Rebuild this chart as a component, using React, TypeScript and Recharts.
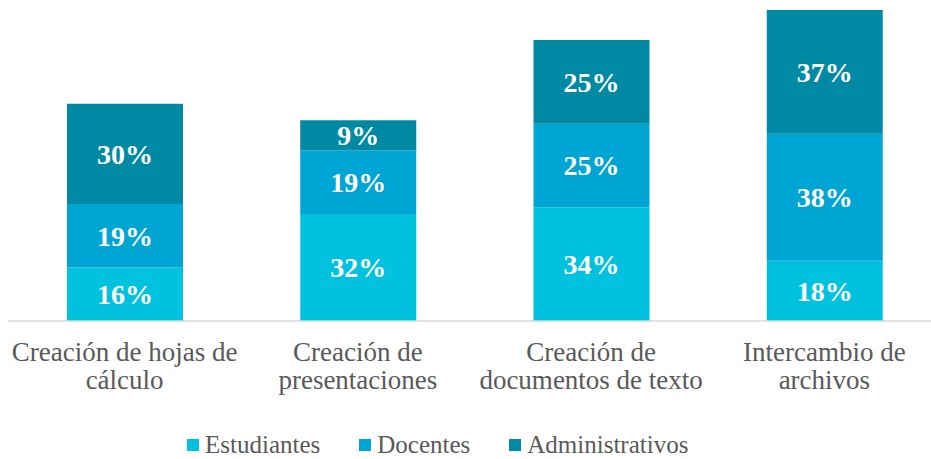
import { BarChart, Bar, XAxis, YAxis, Legend, LabelList } from 'recharts'

const CATEGORIES = [
  'Creación de hojas de\ncálculo',
  'Creación de\npresentaciones',
  'Creación de\ndocumentos de texto',
  'Intercambio de\narchivos',
]
const ESTUDIANTES = [16, 32, 34, 18]
const DOCENTES = [19, 19, 25, 38]
const ADMINISTRATIVOS = [30, 9, 25, 37]

const SERIES = [
  { key: 'estudiantes', name: 'Estudiantes', color: '#00C1DE' },
  { key: 'docentes', name: 'Docentes', color: '#00A5D4' },
  { key: 'administrativos', name: 'Administrativos', color: '#0089A2' },
]

const data = CATEGORIES.map((category, i) => ({
  category,
  estudiantes: ESTUDIANTES[i],
  docentes: DOCENTES[i],
  administrativos: ADMINISTRATIVOS[i],
}))

const FONT = "'Liberation Serif', 'Times New Roman', serif"

function CategoryTick({ x, y, payload }: any) {
  const lines = String(payload.value).split('\n')
  return (
    <text x={x} y={y} textAnchor="middle" fill="#595959" style={{ fontFamily: FONT, fontSize: 27 }}>
      {lines.map((line, i) => (
        <tspan key={i} x={x} dy={i === 0 ? 32 : 28}>
          {line}
        </tspan>
      ))}
    </text>
  )
}

function LegendContent() {
  return (
    <div style={{ display: 'flex', justifyContent: 'flex-start', paddingLeft: 187, marginTop: 8, gap: 39, fontFamily: FONT, fontSize: 25, color: '#595959', lineHeight: '32px' }}>
      {SERIES.map((s) => (
        <div key={s.key} style={{ display: 'flex', alignItems: 'center' }}>
          <span style={{ width: 12, height: 12, background: s.color, marginRight: 6, display: 'inline-block' }} />
          {s.name}
        </div>
      ))}
    </div>
  )
}

export default function App() {
  return (
    <div style={{ width: 931, height: 459, overflow: 'hidden', position: 'absolute', left: 0, top: 0, background: '#fff', fontFamily: FONT }}>
      <BarChart width={941} height={459} data={data} margin={{ top: 10, right: 0, left: 8, bottom: 0 }} style={{ fontFamily: FONT }}>
        <XAxis
          dataKey="category"
          axisLine={{ stroke: '#D9D9D9', strokeWidth: 1.5 }}
          tickLine={false}
          tick={<CategoryTick />}
          interval={0}
          height={100}
        />
        <YAxis hide domain={[0, 93]} />
        <Legend verticalAlign="bottom" height={38} content={<LegendContent />} wrapperStyle={{ left: 0, width: 931 }} />
        {SERIES.map((s) => (
          <Bar key={s.key} dataKey={s.key} name={s.name} stackId="a" fill={s.color} barSize={116} isAnimationActive={false}>
            <LabelList
              dataKey={s.key}
              position="center"
              formatter={(v: any) => `${v}%`}
              fill="#FFFFFF"
              style={{ fontFamily: FONT, fontSize: 28, fontWeight: 'bold' }}
            />
          </Bar>
        ))}
      </BarChart>
    </div>
  )
}
